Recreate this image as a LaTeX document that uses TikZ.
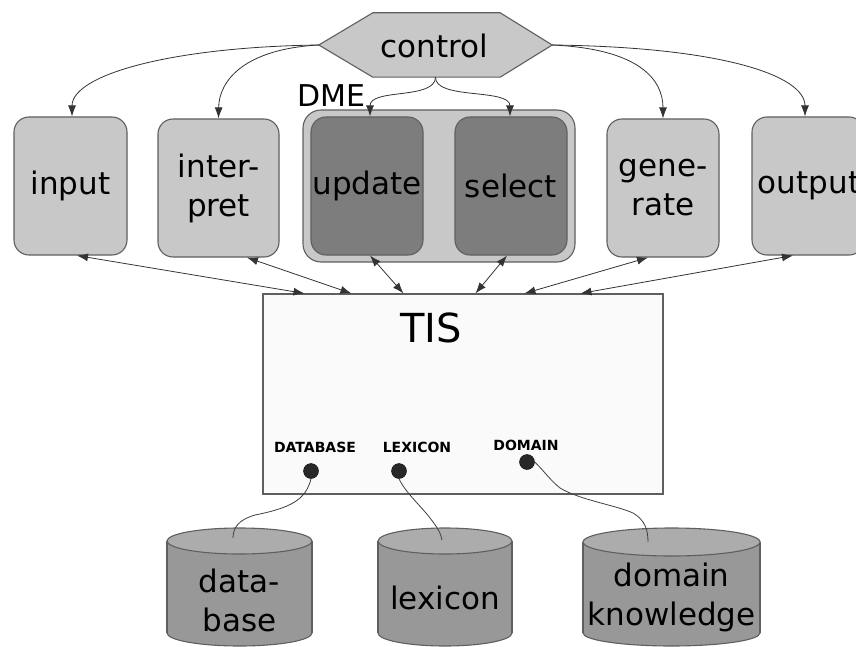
\documentclass[tikz,border=0pt]{standalone}
\usepackage{fontspec}
\setmainfont{DejaVu Sans}
\usetikzlibrary{arrows.meta,calc}
\definecolor{boxlight}{RGB}{200,200,200}
\definecolor{boxdark}{RGB}{125,125,125}
\definecolor{cylbody}{RGB}{152,152,152}
\definecolor{cyltop}{RGB}{172,172,172}
\definecolor{edgegray}{RGB}{95,95,95}
\definecolor{tisfill}{RGB}{250,250,250}
\definecolor{dotfill}{RGB}{40,40,40}
\begin{document}
\begin{tikzpicture}[x=1pt,y=-1pt,
  bigtext/.style={font=\fontsize{31}{39}\selectfont},
  lbox/.style={draw=edgegray, line width=1.1pt, fill=boxlight, rounded corners=15pt,
    inner sep=0pt, align=center, bigtext, minimum height=138pt},
  dbox/.style={lbox, fill=boxdark},
  conn/.style={draw=black!80, line width=0.8pt, -{Latex[length=11pt,width=8pt]}},
  biconn/.style={draw=black!80, line width=0.8pt, {Latex[length=11pt,width=8pt]}-{Latex[length=11pt,width=8pt]}},
  wire/.style={draw=black!75, line width=0.8pt},
  port/.style={circle, draw=black, fill=dotfill, minimum size=15pt, inner sep=0pt},
  portlabel/.style={font=\bfseries\fontsize{14}{16}\selectfont, inner sep=0pt},
  cylside/.style={fill=cylbody},
  cyledge/.style={draw=edgegray, line width=1.1pt},
  cyltext/.style={bigtext, align=center, inner sep=0pt}
]
\useasboundingbox (0,0) rectangle (856,647);

% ---- control hexagon
\node[minimum width=233pt, minimum height=64pt, inner sep=0pt, bigtext] (control) at (435.5,45) {};
\draw[draw=edgegray, line width=1.1pt, fill=boxlight]
  (control.west) -- ($(control.north west)+(54,0)$) -- ($(control.north east)+(-52,0)$)
  -- (control.east) -- ($(control.south east)+(-52,0)$) -- ($(control.south west)+(54,0)$) -- cycle;
\node[bigtext, inner sep=0pt] (controltext) at (434.5,46) {control};

% ---- DME container
\node[draw=edgegray, line width=1.1pt, fill=boxlight, rounded corners=18pt,
  minimum width=272pt, minimum height=152pt, inner sep=0pt] (dme) at (439,186) {};
\node[font=\fontsize{30}{36}\selectfont, inner sep=0pt] (dmelabel) at (331,96) {DME};

% ---- module boxes
\node[lbox, minimum width=113pt] (input) at (70.5,186) {input};
\node[lbox, minimum width=121pt] (interp) at (218.5,188) {inter-\\pret};
\node[dbox, minimum width=112pt] (update) at (367,186) {update};
\node[dbox, minimum width=112pt] (select) at (511,186) {select};
\node[lbox, minimum width=112pt] (generate) at (663,188) {gene-\\rate};
\node[lbox, minimum width=112pt, text width=112pt] (output) at (808,186) {\hspace*{2pt}output\hfill};

% ---- TIS
\node[draw=edgegray, line width=1.1pt, fill=tisfill, minimum width=400pt, minimum height=200pt,
  inner sep=0pt] (tis) at (463,394) {};
\node[font=\fontsize{40}{48}\selectfont, inner sep=0pt] (tislabel) at (431,328) {TIS};

\node[portlabel] (dblabel) at (315,447) {DATABASE};
\node[portlabel] (lexlabel) at (417,447) {LEXICON};
\node[portlabel] (domlabel) at (526,445) {DOMAIN};

% ---- control connectors
\draw[conn] (control.west) .. controls (170,47) and (72,75) .. ($(input.north)+(1.5,0)$);
\draw[conn] (control.west) .. controls (245,49) and (219,80) .. (interp.north);
\draw[conn] (control.east) .. controls (640,49) and (663,80) .. (generate.north);
\draw[conn] (control.east) .. controls (720,47) and (805,75) .. ($(output.north)+(-3,0)$);
\draw[conn] (control.south) .. controls (435,100) and (370,88) .. ($(update.north)+(3,0)$);
\draw[conn] (control.south) .. controls (435,100) and (510,88) .. ($(select.north)+(-1,0)$);

% ---- TIS connectors
\draw[biconn] ($(input.south)+(6.5,0)$) -- ($(tis.north west)+(42,0)$);
\draw[biconn] ($(interp.south)+(28.5,0)$) -- ($(tis.north west)+(89,0)$);
\draw[biconn] ($(update.south)+(3,0)$) -- ($(tis.north west)+(141,0)$);
\draw[biconn] ($(select.south)+(-4,0)$) -- ($(tis.north west)+(213,0)$);
\draw[biconn] ($(generate.south)+(-15,0)$) -- ($(tis.north west)+(262,0)$);
\draw[biconn] ($(output.south)+(-15,0)$) -- ($(tis.north west)+(318,0)$);

% ---- cylinders
% database
\fill[cylside] (239.5,633) ellipse [x radius=72.5, y radius=13];
\draw[cyledge] (239.5,633) ellipse [x radius=72.5, y radius=13];
\fill[cylside] (167,541) rectangle (312,633);
\draw[cyledge] (167,541) -- (167,633) (312,541) -- (312,633);
\filldraw[cyledge, fill=cyltop] (239.5,541) ellipse [x radius=72.5, y radius=13];
\coordinate (dbtop) at (233,538);
\node[cyltext] (dbnode) at (239.5,600) {data-\\base};
% lexicon
\fill[cylside] (445,633) ellipse [x radius=67, y radius=13];
\draw[cyledge] (445,633) ellipse [x radius=67, y radius=13];
\fill[cylside] (378,541) rectangle (512,633);
\draw[cyledge] (378,541) -- (378,633) (512,541) -- (512,633);
\filldraw[cyledge, fill=cyltop] (445,541) ellipse [x radius=67, y radius=13];
\coordinate (lextop) at (442,540);
\node[cyltext] (lexnode) at (445,598) {lexicon};
% domain knowledge
\fill[cylside] (671.5,633) ellipse [x radius=88.5, y radius=13];
\draw[cyledge] (671.5,633) ellipse [x radius=88.5, y radius=13];
\fill[cylside] (583,542) rectangle (760,633);
\draw[cyledge] (583,542) -- (583,633) (760,542) -- (760,633);
\filldraw[cyledge, fill=cyltop] (671.5,542) ellipse [x radius=88.5, y radius=14];
\coordinate (domtop) at (648,542);
\node[cyltext] (domnode) at (671.5,597) {domain\\knowledge};

% ---- ports and wires
\node[port] (dbport) at (311,471) {};
\node[port] (lexport) at (399,471) {};
\node[port] (domport) at (527,462) {};
\draw[wire] (dbport.south) .. controls (306,500) and (290,508) .. (255,515)
  .. controls (238,520) and (233,528) .. (dbtop);
\draw[wire] (lexport.south) .. controls (405,492) and (420,505) .. (430,518)
  .. controls (438,528) and (441,534) .. (lextop);
\draw[wire] (domport.east) .. controls (545,472) and (550,480) .. (560,488)
  .. controls (580,500) and (615,505) .. (633,513)
  .. controls (645,520) and (648,530) .. (domtop);
\end{tikzpicture}
\end{document}
